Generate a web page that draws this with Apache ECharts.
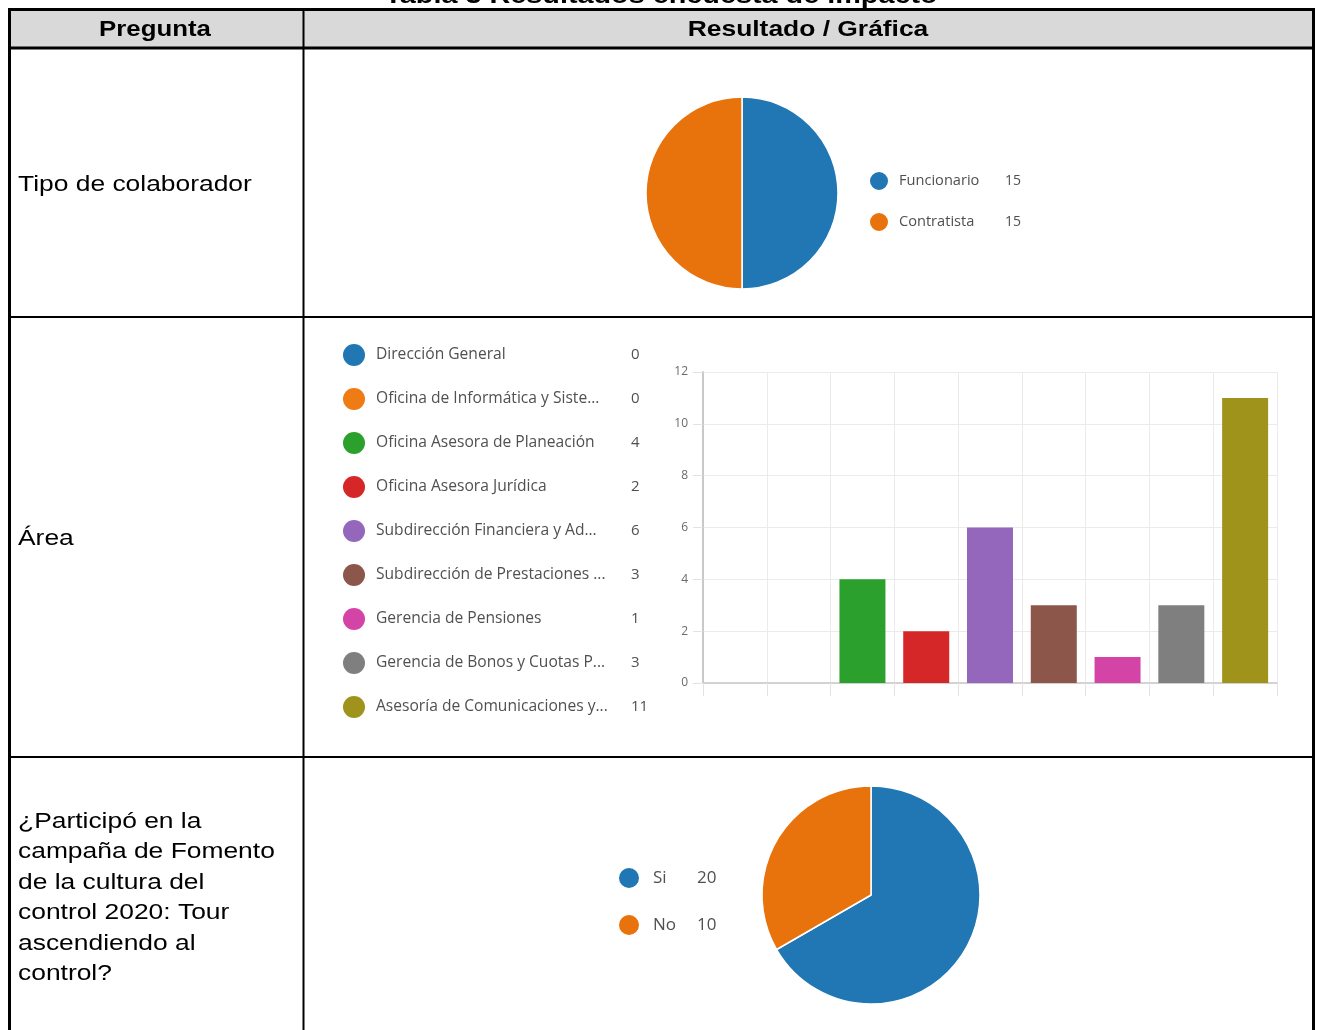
<!DOCTYPE html>
<html>
<head>
<meta charset="utf-8">
<script src="https://cdn.jsdelivr.net/npm/echarts@6/dist/echarts.min.js"></script>
<style>
html,body{margin:0;padding:0;background:#fff;}
#c{width:1320px;height:1030px;}
</style>
</head>
<body>
<div id="c"></div>
<script>
// ---- data ----
const tableTitle = "Tabla 3 Resultados encuesta de impacto";
const headers = ["Pregunta", "Resultado / Gráfica"];
const questions = ["Tipo de colaborador", "Área", "¿Participó en la\ncampaña de Fomento\nde la cultura del\ncontrol 2020: Tour\nascendiendo al\ncontrol?"];

const tipoNames = ["Funcionario", "Contratista"];
const tipoValues = [15, 15];
const tipoColors = ["#2176b4", "#e8720c"];

const areaNames = ["Dirección General", "Oficina de Informática y Siste...", "Oficina Asesora de Planeación", "Oficina Asesora Jurídica", "Subdirección Financiera y Ad...", "Subdirección de Prestaciones ...", "Gerencia de Pensiones", "Gerencia de Bonos y Cuotas P...", "Asesoría de Comunicaciones y..."];
const areaValues = [0, 0, 4, 2, 6, 3, 1, 3, 11];
const areaColors = ["#2176b4", "#ef7b14", "#2ca02c", "#d62728", "#9467bd", "#8c564b", "#d444a6", "#7f7f7f", "#a0931c"];
const yTicks = [0, 2, 4, 6, 8, 10, 12];

const partNames = ["Si", "No"];
const partValues = [20, 10];
const partColors = ["#2176b4", "#e8720c"];

// ---- build ----
const chart = echarts.init(document.getElementById('c'), null, {renderer: 'canvas'});
const FONT = '"Liberation Sans", Arial, sans-serif';
const LFONT = '"Open Sans", "Noto Sans", sans-serif';
const SX = 1.2;
const LCOL = '#505050';

function line(x1, y1, x2, y2, w) {
  return {type: 'line', shape: {x1, y1, x2, y2}, style: {stroke: '#000', lineWidth: w}, z: 10};
}

const graphic = [
  {type: 'rect', shape: {x: 9, y: 10, width: 1305, height: 38}, style: {fill: '#d9d9d9'}, z: 1},
  {type: 'text', x: 661, y: -4, scaleX: SX, style: {text: tableTitle, x: 0, y: 0, align: 'center', verticalAlign: 'middle', font: 'bold 24px ' + FONT, fill: '#000'}, z: 5},
  // borders
  line(9.5, 9.5, 1313.5, 9.5, 3),
  line(9, 48, 1314, 48, 3),
  line(9, 317, 1314, 317, 2),
  line(9, 757, 1314, 757, 2),
  line(9.5, 8, 9.5, 1030, 3),
  line(303.5, 8, 303.5, 1030, 2),
  line(1313.5, 8, 1313.5, 1030, 3),
  // headers
  {type: 'text', x: 155, y: 30, scaleX: SX, style: {text: headers[0], x: 0, y: 0, align: 'center', verticalAlign: 'middle', font: 'bold 21.5px ' + FONT, fill: '#000'}, z: 5},
  {type: 'text', x: 808, y: 30, scaleX: SX, style: {text: headers[1], x: 0, y: 0, align: 'center', verticalAlign: 'middle', font: 'bold 22px ' + FONT, fill: '#000'}, z: 5},
  // questions
  {type: 'text', x: 18, y: 185, scaleX: SX, style: {text: questions[0], x: 0, y: 0, align: 'left', verticalAlign: 'middle', font: '22px ' + FONT, fill: '#000'}, z: 5},
  {type: 'text', x: 18, y: 539, scaleX: SX, style: {text: questions[1], x: 0, y: 0, align: 'left', verticalAlign: 'middle', font: '22px ' + FONT, fill: '#000'}, z: 5},
  {type: 'text', x: 18, y: 898, scaleX: SX, style: {text: questions[2], x: 0, y: 0, align: 'left', verticalAlign: 'middle', font: '22px ' + FONT, lineHeight: 30.4, fill: '#000'}, z: 5}
];

function legendFmt(names, values) {
  return function (name) {
    const i = names.indexOf(name);
    return '{n|' + name + '}{v|' + values[i] + '}';
  };
}

const barSeries = areaNames.map((nm, i) => ({
  type: 'bar',
  name: nm,
  xAxisIndex: 0, yAxisIndex: 0,
  barWidth: 46,
  barGap: '-100%',
  itemStyle: {color: areaColors[i]},
  data: areaValues.map((v, j) => j === i ? v : null),
  emphasis: {disabled: true}
}));

const option = {
  animation: false,
  graphic: graphic,
  color: areaColors,
  legend: [
    {
      data: tipoNames, orient: 'vertical', left: 868, top: 170, padding: 0,
      icon: 'circle', itemWidth: 20, itemHeight: 20, itemGap: 19,
      formatter: legendFmt(tipoNames, tipoValues),
      textStyle: {rich: {
        n: {fontFamily: LFONT, fontSize: 14.6, color: LCOL, width: 106, height: 20, lineHeight: 20, padding: [0, 0, 0, 5]},
        v: {fontFamily: LFONT, fontSize: 14, color: LCOL, height: 20, lineHeight: 20}
      }}
    },
    {
      data: areaNames, orient: 'vertical', left: 343, top: 344, padding: 0,
      icon: 'circle', itemWidth: 22, itemHeight: 22, itemGap: 22,
      formatter: legendFmt(areaNames, areaValues),
      textStyle: {rich: {
        n: {fontFamily: LFONT, fontSize: 15.6, color: LCOL, width: 255, height: 22, lineHeight: 22, padding: [0, 0, 0, 6]},
        v: {fontFamily: LFONT, fontSize: 15, color: LCOL, height: 22, lineHeight: 22}
      }}
    },
    {
      data: partNames, orient: 'vertical', left: 617, top: 866, padding: 0,
      icon: 'circle', itemWidth: 22, itemHeight: 22, itemGap: 23,
      formatter: legendFmt(partNames, partValues),
      textStyle: {rich: {
        n: {fontFamily: LFONT, fontSize: 17, color: LCOL, width: 44, height: 22, lineHeight: 22, padding: [0, 0, 0, 8]},
        v: {fontFamily: LFONT, fontSize: 17, color: LCOL, height: 22, lineHeight: 22}
      }}
    }
  ],
  grid: {left: 703, right: 43, top: 372, bottom: 347, containLabel: false},
  xAxis: {
    type: 'category', data: areaNames,
    axisLine: {show: true, lineStyle: {color: '#c8c8c8', width: 1.5}},
    axisTick: {show: true, length: 13, interval: 0, lineStyle: {color: '#e3e3e3'}},
    axisLabel: {show: false},
    splitLine: {show: true, interval: 0, lineStyle: {color: '#ebebeb'}}
  },
  yAxis: {
    type: 'value', min: yTicks[0], max: yTicks[yTicks.length - 1], interval: yTicks[1] - yTicks[0],
    axisLine: {show: true, lineStyle: {color: '#c8c8c8', width: 2}},
    axisTick: {show: true, length: 10, lineStyle: {color: '#e3e3e3'}},
    axisLabel: {show: true, margin: 15, fontSize: 12, color: '#6a6a6a', fontFamily: LFONT},
    splitLine: {show: true, lineStyle: {color: '#ebebeb'}}
  },
  series: [
    {
      type: 'pie', name: 'tipo', center: [742, 193], radius: 96, startAngle: 90, clockwise: true,
      label: {show: false}, labelLine: {show: false}, emphasis: {disabled: true},
      itemStyle: {borderColor: '#fff', borderWidth: 1.5},
      data: tipoNames.map((n, i) => ({name: n, value: tipoValues[i], itemStyle: {color: tipoColors[i]}}))
    },
    ...barSeries,
    {
      type: 'pie', name: 'part', center: [871, 895], radius: 109, startAngle: 90, clockwise: true,
      label: {show: false}, labelLine: {show: false}, emphasis: {disabled: true},
      itemStyle: {borderColor: '#fff', borderWidth: 1.5},
      data: partNames.map((n, i) => ({name: n, value: partValues[i], itemStyle: {color: partColors[i]}}))
    }
  ]
};
chart.setOption(option);
</script>
</body>
</html>
